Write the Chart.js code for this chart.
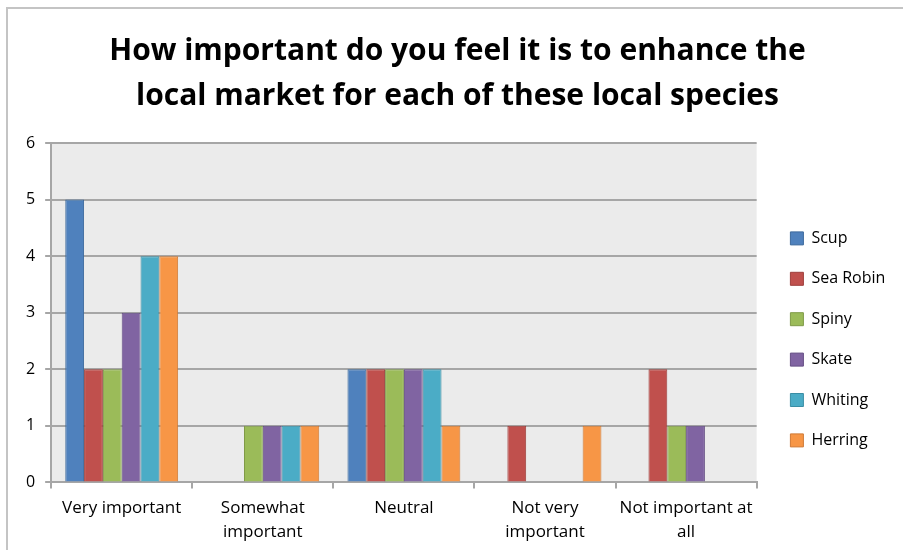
<!DOCTYPE html>
<html>
<head>
<meta charset="utf-8">
<script src="https://cdn.jsdelivr.net/npm/chart.js@4.4.1/dist/chart.umd.min.js"></script>
<style>
  html, body { margin: 0; padding: 0; background: #fff; }
  #wrap {
    position: absolute; left: 6px; top: 7px;
    width: 897px; height: 543px;
    border-top: 2px solid #c4c4c4; border-left: 2px solid #c4c4c4;
  }
</style>
</head>
<body>
<div id="wrap"><canvas id="chart"></canvas></div>
<script>
// categories (x axis)
const categories = [
    ['Very important'],
    ['Somewhat', 'important'],
    ['Neutral'],
    ['Not very', 'important'],
    ['Not important at', 'all']
]

// one array per species
const scup     = [5, 0, 2, 0, 0]
const seaRobin = [2, 0, 2, 1, 2]
const spiny    = [2, 1, 2, 0, 1]
const skate    = [3, 1, 2, 0, 1]
const whiting  = [4, 1, 2, 0, 0]
const herring  = [4, 1, 1, 1, 0]

const seriesNames = ['Scup', 'Sea Robin', 'Spiny', 'Skate', 'Whiting', 'Herring']
const seriesData = [scup, seaRobin, spiny, skate, whiting, herring]
const fills   = ['#4f81bd', '#c0504d', '#9bbb59', '#8064a2', '#4bacc6', '#f79646']
const borders = ['#3d6a9c', '#9e3f3c', '#7f9a48', '#664f85', '#3a8ea5', '#cf7a37']

const titleLines = ['How important do you feel it is to enhance the', 'local market for each of these local species']

const FONT = '"Open Sans", Lato, sans-serif'

// plot area background (light gray like the Excel chart)
const plotBg = {
    id: 'plotBg',
    beforeDraw(chart) {
        const { ctx, chartArea: a } = chart
        ctx.save()
        ctx.fillStyle = '#ebebeb'
        ctx.fillRect(a.left, a.top, a.right - a.left, a.bottom - a.top)
        ctx.restore()
    }
}

// small position tweaks: title sits a bit right of center,
// legend sits lower than the default
const nudge = {
    id: 'nudge',
    afterLayout(chart) {
        chart.titleBlock.left += 13
        chart.legend.left = 758
        chart.legend.top = 197
    }
}

const datasets = seriesNames.map((name, i) => ({
    label: name,
    data: seriesData[i],
    backgroundColor: fills[i],
    borderColor: borders[i],
    borderWidth: 1,
    categoryPercentage: 0.8,
    barPercentage: 1.0
}))

new Chart(document.getElementById('chart'), {
    type: 'bar',
    data: { labels: categories, datasets: datasets },
    plugins: [plotBg, nudge],
    options: {
        responsive: true,
        maintainAspectRatio: false,
        animation: false,
        layout: { padding: { left: 8, right: 19, top: 0, bottom: 0 } },
        plugins: {
            title: {
                display: true,
                text: titleLines,
                color: '#000',
                font: { family: FONT, size: 30, weight: 'bold', lineHeight: 1.5 },
                padding: { top: 20, bottom: 24 }
            },
            legend: {
                position: 'right',
                align: 'start',
                labels: {
                    boxWidth: 13,
                    boxHeight: 13,
                    padding: 24.4,
                    color: '#000',
                    font: { family: FONT, size: 16 }
                }
            },
            tooltip: { enabled: false }
        },
        scales: {
            x: {
                grid: {
                    display: true,
                    drawOnChartArea: false,
                    offset: true,
                    tickLength: 6,
                    color: '#a6a6a6',
                    lineWidth: 2
                },
                border: { color: '#a6a6a6', width: 2 },
                ticks: {
                    color: '#000',
                    maxRotation: 0,
                    autoSkip: false,
                    padding: 8,
                    font: { family: FONT, size: 17, lineHeight: 1.4 }
                }
            },
            y: {
                min: 0,
                max: 6,
                ticks: {
                    stepSize: 1,
                    color: '#000',
                    padding: 10,
                    font: { family: FONT, size: 16 }
                },
                grid: {
                    color: '#a6a6a6',
                    lineWidth: 2,
                    tickLength: 6
                },
                border: { color: '#a6a6a6', width: 2 }
            }
        }
    }
})
</script>
</body>
</html>
